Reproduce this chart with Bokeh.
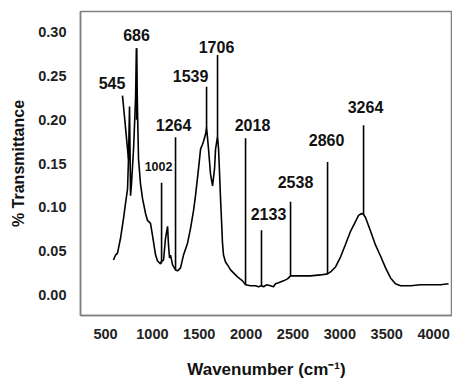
from bokeh.plotting import figure
from bokeh.models import Range1d, FixedTicker, NumeralTickFormatter, ColumnDataSource
from bokeh.core.properties import value
from bokeh.embed import file_html
from bokeh.resources import INLINE

# ---- data ----
wavenumber = [585, 607, 628, 660, 692, 713, 735, 745, 756, 767,
              777, 799, 820, 831, 841, 852, 873, 895, 927, 948,
              980, 1001, 1034, 1055, 1087, 1098, 1119, 1140, 1162, 1172,
              1183, 1194, 1215, 1247, 1268, 1300, 1332, 1375, 1407, 1439,
              1460, 1492, 1514, 1535, 1546, 1567, 1578, 1599, 1620, 1642,
              1663, 1674, 1695, 1706, 1716, 1727, 1738, 1748, 1759, 1780,
              1802, 1834, 1866, 1908, 1962, 1994, 2047, 2100, 2132, 2164,
              2186, 2218, 2260, 2292, 2314, 2346, 2399, 2442, 2474, 2527,
              2581, 2687, 2794, 2869, 2901, 2954, 3007, 3061, 3114, 3168,
              3200, 3232, 3253, 3274, 3328, 3381, 3434, 3488, 3541, 3594,
              3648, 3754, 3861, 3968, 4074, 4160]
transmittance = [0.0396, 0.0453, 0.0475, 0.0645, 0.0872, 0.1042, 0.1211, 0.1551, 0.2151, 0.1132,
                 0.1268, 0.1664, 0.2230, 0.2819, 0.2117, 0.1551, 0.1268, 0.1098, 0.0928, 0.0849,
                 0.0815, 0.0679, 0.0453, 0.0385, 0.0351, 0.0385, 0.0396, 0.0645, 0.0781, 0.0566,
                 0.0419, 0.0453, 0.0340, 0.0283, 0.0272, 0.0306, 0.0453, 0.0589, 0.0759, 0.0962,
                 0.1132, 0.1438, 0.1664, 0.1721, 0.1755, 0.1834, 0.1913, 0.1664, 0.1381, 0.1245,
                 0.1438, 0.1664, 0.1811, 0.1664, 0.1404, 0.1098, 0.0838, 0.0589, 0.0453, 0.0374,
                 0.0340, 0.0283, 0.0249, 0.0204, 0.0158, 0.0113, 0.0102, 0.0102, 0.0091, 0.0102,
                 0.0091, 0.0113, 0.0102, 0.0091, 0.0125, 0.0136, 0.0158, 0.0181, 0.0215, 0.0215,
                 0.0215, 0.0215, 0.0226, 0.0238, 0.0260, 0.0317, 0.0430, 0.0577, 0.0725, 0.0838,
                 0.0906, 0.0928, 0.0917, 0.0883, 0.0725, 0.0566, 0.0442, 0.0306, 0.0192, 0.0125,
                 0.0102, 0.0102, 0.0113, 0.0113, 0.0113, 0.0125]

peak_labels = ["545", "686", "1002", "1264", "1539", "1706", "2018", "2133", "2538", "2860", "3264"]
label_x = [569, 831, 1066, 1226, 1407, 1684, 2068, 2239, 2527, 2858, 3274]
label_y = [0.2423, 0.2966, 0.1460, 0.1936, 0.2502, 0.2830, 0.1936, 0.0928, 0.1291, 0.1766, 0.2151]
label_size = ["16px", "16px", "12.5px", "16px", "16px", "16px", "16px", "16px", "16px", "16px", "16px"]
mark_x_top = [681, 831, 1098, 1247, 1578, 1695, 1994, 2164, 2474, 2869, 3253]
mark_y_top = [0.2276, 0.2819, 0.1279, 0.180, 0.2377, 0.274, 0.1789, 0.0736, 0.1064, 0.1517, 0.1936]
mark_x_bot = [745, 831, 1098, 1247, 1578, 1695, 1994, 2164, 2474, 2869, 3253]
mark_y_bot = [0.155, 0.20, 0.036, 0.028, 0.191, 0.181, 0.0113, 0.0102, 0.0215, 0.0238, 0.0917]

x_ticks = [500, 1000, 1500, 2000, 2500, 3000, 3500, 4000]
y_ticks = [0.00, 0.05, 0.10, 0.15, 0.20, 0.25, 0.30]

FONT = "Liberation Sans"

p = figure(width=452, height=381, output_backend="svg", toolbar_location=None,
           x_range=Range1d(233, 4202), y_range=Range1d(-0.0238, 0.3238),
           min_border_left=80, min_border_right=0, min_border_top=11, min_border_bottom=63)
p.outline_line_color = "#808080"
p.outline_line_width = 1.5
p.grid.grid_line_color = None
p.background_fill_color = "white"

for ax in (p.xaxis[0], p.yaxis[0]):
    ax.axis_line_color = "#808080"
    ax.axis_line_width = 1.5
    ax.major_tick_line_color = None
    ax.minor_tick_line_color = None
    ax.major_tick_out = 0
    ax.major_tick_in = 0
    ax.minor_tick_out = 0
    ax.minor_tick_in = 0
    ax.major_label_text_font = FONT
    ax.major_label_text_font_style = "bold"
    ax.major_label_text_font_size = "14.5px"
    ax.major_label_text_color = "#222222"
    ax.axis_label_text_font = FONT
    ax.axis_label_text_font_style = "bold"
    ax.axis_label_text_color = "#111111"

p.xaxis[0].ticker = FixedTicker(ticks=x_ticks)
p.xaxis[0].major_label_standoff = 13
p.xaxis[0].axis_label = "Wavenumber (cm\u207b\u00b9)"
p.xaxis[0].axis_label_text_font_size = "17px"
p.xaxis[0].axis_label_standoff = 18

p.yaxis[0].ticker = FixedTicker(ticks=y_ticks)
p.yaxis[0].formatter = NumeralTickFormatter(format="0.00")
p.yaxis[0].major_label_standoff = 14
p.yaxis[0].axis_label = "% Transmittance"
p.yaxis[0].axis_label_text_font_size = "16px"
p.yaxis[0].axis_label_standoff = 8

p.line(wavenumber, transmittance, line_color="black", line_width=1.6)

p.segment(x0=mark_x_top, y0=mark_y_top, x1=mark_x_bot, y1=mark_y_bot,
          line_color="black", line_width=1.6)

src = ColumnDataSource(dict(x=label_x, y=label_y, t=peak_labels, s=label_size))
p.text(x="x", y="y", text="t", source=src, text_font=value(FONT), text_font_style="bold",
       text_font_size="s", text_align="center", text_baseline="middle", text_color="#111111")

open("out.html", "w").write(file_html(p, INLINE))
